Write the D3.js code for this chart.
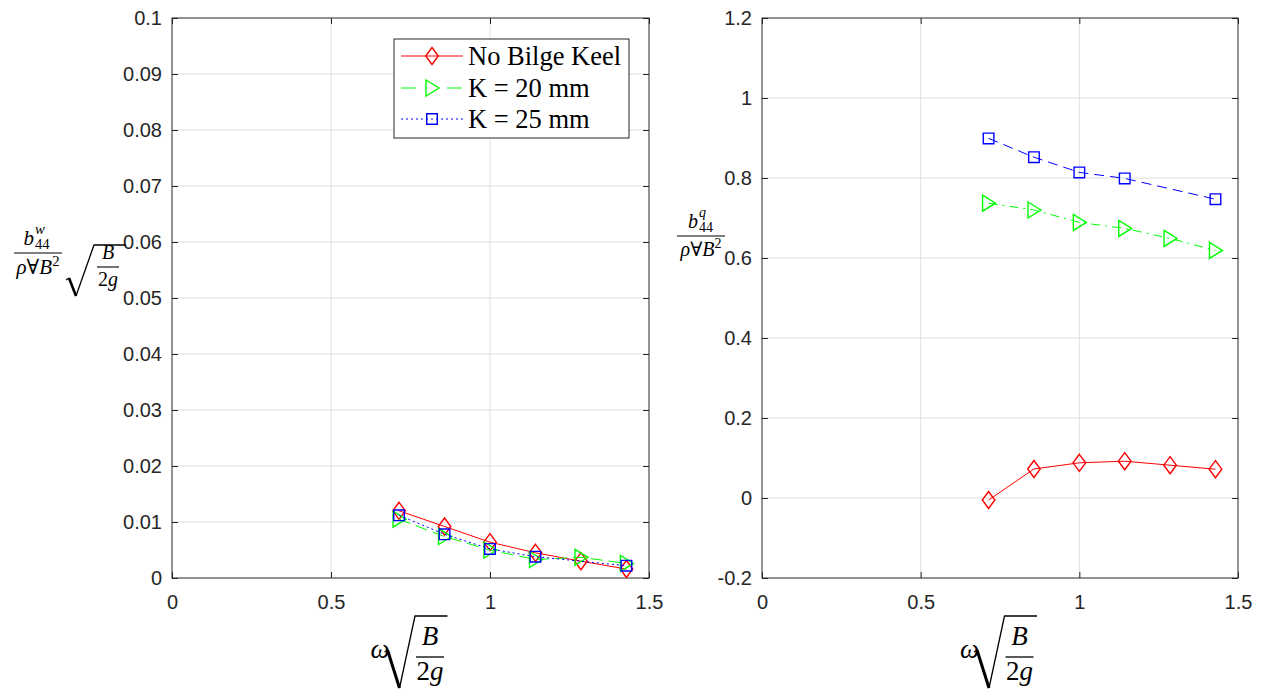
<!DOCTYPE html>
<html><head><meta charset="utf-8">
<script src="https://cdn.jsdelivr.net/npm/d3@7"></script>
<style>body{margin:0;background:#fff}svg{display:block}</style>
</head><body><svg id="c" width="1261" height="692"></svg>
<script>
// ---------------- data ----------------
const omega      = [0.714, 0.857, 1.0, 1.143, 1.286, 1.429];
const omegaK25   = [0.714, 0.857, 1.0, 1.143, 1.429];
const leftNoKeel = [0.0120, 0.0092, 0.0064, 0.0045, 0.0030, 0.0016];
const leftK20    = [0.0105, 0.0074, 0.0050, 0.0033, 0.0037, 0.0026];
const leftK25    = [0.0112, 0.0078, 0.0052, 0.0038, 0.0022];
const rightNoKeel= [-0.005, 0.0725, 0.088, 0.092, 0.082, 0.072];
const rightK20   = [0.737, 0.72, 0.689, 0.674, 0.649, 0.619];
const rightK25   = [0.899, 0.852, 0.814, 0.799, 0.747];
const xTicks      = [0, 0.5, 1, 1.5];
const leftYTicks  = [0, 0.01, 0.02, 0.03, 0.04, 0.05, 0.06, 0.07, 0.08, 0.09, 0.1];
const rightYTicks = [-0.2, 0, 0.2, 0.4, 0.6, 0.8, 1, 1.2];
const legendLabels = ["No Bilge Keel", "K = 20 mm", "K = 25 mm"];

// ---------------- setup ----------------
const svg = d3.select("#c");
const AX = "#262626", GRID = "#dfdfdf";
const TICKFONT = "'Liberation Sans', Arial, sans-serif";
const SERIF = "'Liberation Serif', 'DejaVu Serif', serif";
const yTop = 18, yBot = 578;

const marker = {
  diamond: "M0,-8.5L6.3,0L0,8.5L-6.3,0Z",
  tri: "M-6,-8L7,0L-6,8Z",
  square: "M-5.3,-5.3h10.6v10.6h-10.6Z"
};

function panel(x0, x1, yDomain, yTicks, series) {
  const x = d3.scaleLinear().domain([0, 1.5]).range([x0, x1]);
  const y = d3.scaleLinear().domain(yDomain).range([yBot, yTop]);
  const g = svg.append("g");
  g.selectAll(".gx").data(xTicks.slice(1, -1)).join("line")
    .attr("x1", d => x(d)).attr("x2", d => x(d)).attr("y1", yTop).attr("y2", yBot)
    .attr("stroke", GRID).attr("stroke-width", 1);
  g.selectAll(".gy").data(yTicks.slice(1, -1)).join("line")
    .attr("y1", d => y(d)).attr("y2", d => y(d)).attr("x1", x0).attr("x2", x1)
    .attr("stroke", GRID).attr("stroke-width", 1);
  const fmt = d => String(d);
  const ab = g.append("g").attr("transform", `translate(0,${yBot})`)
    .call(d3.axisBottom(x).tickValues(xTicks).tickSizeInner(-6).tickSizeOuter(0).tickPadding(17).tickFormat(fmt));
  const at = g.append("g").attr("transform", `translate(0,${yTop})`)
    .call(d3.axisTop(x).tickValues(xTicks).tickSizeInner(-6).tickSizeOuter(0).tickFormat(""));
  const al = g.append("g").attr("transform", `translate(${x0},0)`)
    .call(d3.axisLeft(y).tickValues(yTicks).tickSizeInner(-6).tickSizeOuter(0).tickPadding(10).tickFormat(fmt));
  const ar = g.append("g").attr("transform", `translate(${x1},0)`)
    .call(d3.axisRight(y).tickValues(yTicks).tickSizeInner(-6).tickSizeOuter(0).tickFormat(""));
  [ab, at, al, ar].forEach(a => {
    a.select(".domain").remove();
    a.selectAll("line").attr("stroke", AX);
    a.selectAll("text").attr("fill", AX).style("font-family", TICKFONT).style("font-size", "20px");
  });
  g.append("rect").attr("x", x0).attr("y", yTop).attr("width", x1 - x0).attr("height", yBot - yTop)
    .attr("fill", "none").attr("stroke", AX).attr("stroke-width", 1);
  series.forEach(s => {
    const pts = s.xs.map((v, i) => [x(v), y(s.ys[i])]);
    g.append("path").attr("d", d3.line()(pts)).attr("fill", "none")
      .attr("stroke", s.color).attr("stroke-width", 1).attr("stroke-dasharray", s.dash || null);
    g.selectAll(null).data(pts).join("path").attr("d", marker[s.m])
      .attr("transform", d => `translate(${d[0]},${d[1]})`)
      .attr("fill", "none").attr("stroke", s.color).attr("stroke-width", 1.4);
  });
  return {x, y};
}

panel(172, 649, [0, 0.1], leftYTicks, [
  {xs: omega, ys: leftNoKeel, color: "#ff0000", m: "diamond"},
  {xs: omega, ys: leftK20, color: "#00ff00", m: "tri", dash: "12,6"},
  {xs: omegaK25, ys: leftK25, color: "#0000ff", m: "square", dash: "2,3"}
]);
panel(762, 1238, [-0.2, 1.2], rightYTicks, [
  {xs: omega, ys: rightNoKeel, color: "#ff0000", m: "diamond"},
  {xs: omega, ys: rightK20, color: "#00ff00", m: "tri", dash: "9,5,2,5"},
  {xs: omegaK25, ys: rightK25, color: "#0000ff", m: "square", dash: "10,6"}
]);

// ---------------- legend ----------------
const lg = svg.append("g");
lg.append("rect").attr("x", 394).attr("y", 39).attr("width", 235).attr("height", 99)
  .attr("fill", "#fff").attr("stroke", AX).attr("stroke-width", 1);
const legStyle = [
  {color: "#ff0000", m: "diamond", dash: null},
  {color: "#00ff00", m: "tri", dash: "15,31"},
  {color: "#0000ff", m: "square", dash: "2,3"}
];
const rowY = [56, 88, 119];
legendLabels.forEach((t, i) => {
  const s = legStyle[i];
  lg.append("line").attr("x1", 401).attr("x2", 463).attr("y1", rowY[i]).attr("y2", rowY[i])
    .attr("stroke", s.color).attr("stroke-width", 1).attr("stroke-dasharray", s.dash);
  lg.append("path").attr("d", marker[s.m]).attr("transform", `translate(432,${rowY[i]})`)
    .attr("fill", "none").attr("stroke", s.color).attr("stroke-width", 1.4);
  lg.append("text").attr("x", 468).attr("y", rowY[i] + 9).text(t)
    .style("font-family", SERIF).style("font-size", "26.5px").attr("fill", "#000");
});

// ---------------- math labels ----------------
function txt(x, y, s, size, italic, anchor) {
  return svg.append("text").attr("x", x).attr("y", y).text(s)
    .style("font-family", SERIF).style("font-size", size + "px")
    .style("font-style", italic ? "italic" : "normal")
    .attr("text-anchor", anchor || "start").attr("fill", "#000");
}
function hbar(x1, x2, y, w) {
  svg.append("line").attr("x1", x1).attr("x2", x2).attr("y1", y).attr("y2", y)
    .attr("stroke", "#000").attr("stroke-width", w || 1.2);
}
function radical(xs, ys, xb, yb, xt, yt, xe, thick) {
  svg.append("path").attr("d", `M${xs},${ys}L${xs + 3},${ys - 2}`)
    .attr("stroke", "#000").attr("stroke-width", 1.2).attr("fill", "none");
  svg.append("path").attr("d", `M${xs + 3},${ys - 2}L${xb},${yb}`)
    .attr("stroke", "#000").attr("stroke-width", thick).attr("fill", "none");
  svg.append("path").attr("d", `M${xb},${yb}L${xt},${yt}L${xe},${yt}`)
    .attr("stroke", "#000").attr("stroke-width", 1.3).attr("fill", "none").attr("stroke-linejoin", "miter");
}
function denom(cx, y, size) {
  const t = svg.append("text").attr("x", cx).attr("y", y).attr("text-anchor", "middle")
    .style("font-family", SERIF).style("font-size", size + "px").attr("fill", "#000");
  t.append("tspan").style("font-style", "italic").text("ρ");
  t.append("tspan").text("∀");
  t.append("tspan").style("font-style", "italic").text("B");
  t.append("tspan").attr("dy", -8).style("font-size", (size * 0.7) + "px").text("2");
}
function numer(xb, y, sup, size) {
  txt(xb, y, "b", size, true, "end");
  txt(xb + 1, y - 11, sup, size * 0.7, true);
  txt(xb + 1, y + 4, "44", size * 0.7, false);
}

// left y label
hbar(14, 62, 253);
numer(34, 245, "w", 21);
denom(38, 274, 21);
radical(66, 280, 76, 296, 94, 245, 126, 2.6);
txt(108, 259, "B", 20, true, "middle");
hbar(97, 119, 267, 1.1);
{ const t = svg.append("text").attr("x", 108).attr("y", 286).attr("text-anchor", "middle")
    .style("font-family", SERIF).style("font-size", "20px").attr("fill", "#000");
  t.append("tspan").text("2"); t.append("tspan").style("font-style", "italic").text("g"); }

// right y label
hbar(677, 725, 236);
numer(698, 228, "q", 20);
denom(701, 256, 20);

// x labels
[410.5, 1000].forEach(cx => {
  txt(cx - 40, 658, "ω", 27, true);
  radical(cx - 26, 652, cx - 11, 688, cx + 4.5, 616, cx + 37, 3);
  txt(cx + 19.5, 645, "B", 27, true, "middle");
  hbar(cx + 5.5, cx + 33.5, 657, 1.3);
  const t = svg.append("text").attr("x", cx + 19.5).attr("y", 680).attr("text-anchor", "middle")
    .style("font-family", SERIF).style("font-size", "27px").attr("fill", "#000");
  t.append("tspan").text("2"); t.append("tspan").style("font-style", "italic").text("g");
});
</script></body></html>
